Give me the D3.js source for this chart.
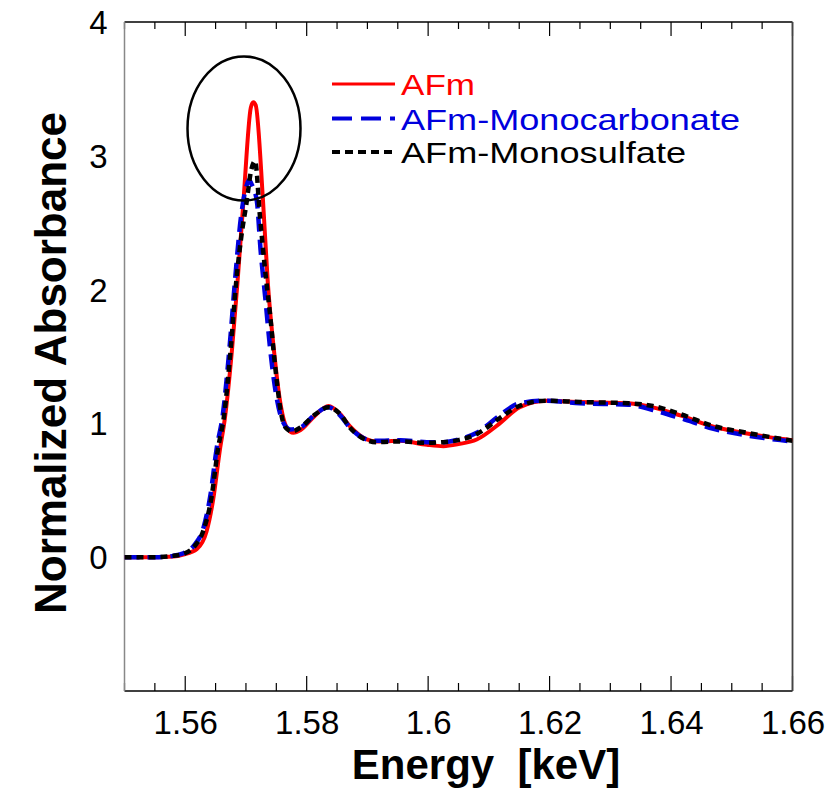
<!DOCTYPE html>
<html><head><meta charset="utf-8">
<script src="https://cdn.jsdelivr.net/npm/d3@7"></script>
<style>body{margin:0;background:#fff}svg{display:block}text{font-family:"Liberation Sans",Arial,sans-serif}</style>
</head><body>
<script>
// ---- data ----
const energyAFm = [1.55,1.555,1.558,1.5597,1.5619,1.5635,1.5646,1.5657,1.56655,1.5677,1.5686,1.5696,1.5708,1.5712,1.5716,1.5728,1.5736,1.5746,1.5756,1.5767,1.5778,1.579,1.5812,1.5836,1.5855,1.5871,1.5899,1.5915,1.5954,1.5998,1.6025,1.605,1.608,1.6118,1.615,1.6195,1.625,1.633,1.637,1.6415,1.647,1.6525,1.658,1.66];
const absAFm    = [0,0,0.005,0.02,0.06,0.19,0.43,0.80,1.045,1.55,2.05,2.67,3.36,3.40,3.38,2.67,2.05,1.55,1.17,0.97,0.93,0.95,1.05,1.13,1.07,0.98,0.88,0.865,0.87,0.84,0.83,0.845,0.88,1.0,1.12,1.17,1.16,1.15,1.12,1.06,0.975,0.925,0.885,0.875];

const energyMonoC = [1.55,1.555,1.558,1.5597,1.5615,1.563,1.5641,1.5652,1.5662,1.5673,1.5682,1.5692,1.57,1.5705,1.571,1.5718,1.5724,1.5732,1.574,1.5751,1.5761,1.5773,1.579,1.5812,1.5836,1.5855,1.5871,1.5899,1.5915,1.5954,1.5998,1.6025,1.605,1.608,1.6118,1.615,1.6195,1.625,1.633,1.637,1.6415,1.647,1.6525,1.658,1.66];
const absMonoC    = [0,0,0.01,0.03,0.09,0.22,0.45,0.82,1.07,1.57,2.07,2.55,2.76,2.82,2.78,2.66,2.30,1.93,1.55,1.18,1.01,0.955,0.97,1.06,1.12,1.06,0.97,0.88,0.87,0.875,0.86,0.86,0.88,0.93,1.06,1.15,1.17,1.15,1.14,1.10,1.04,0.96,0.91,0.875,0.865];

const energyMonoS = [1.55,1.555,1.558,1.5597,1.5615,1.563,1.5643,1.5654,1.5664,1.5675,1.5684,1.5694,1.57,1.5709,1.5715,1.5723,1.5731,1.574,1.5748,1.5759,1.5767,1.5776,1.579,1.5812,1.5836,1.5855,1.5871,1.5899,1.5915,1.5954,1.5998,1.6025,1.605,1.608,1.6118,1.615,1.6195,1.625,1.633,1.637,1.6415,1.647,1.6525,1.658,1.66];
const absMonoS    = [0,0,0.01,0.025,0.08,0.2,0.44,0.81,1.06,1.56,2.06,2.45,2.62,2.90,2.96,2.55,2.17,1.80,1.43,1.05,0.96,0.94,0.97,1.06,1.12,1.07,0.97,0.875,0.86,0.865,0.855,0.86,0.875,0.92,1.04,1.13,1.17,1.16,1.15,1.13,1.07,0.98,0.93,0.885,0.87];

const seriesNames  = ["AFm","AFm-Monocarbonate","AFm-Monosulfate"];
const seriesColors = ["#ff0000","#0000dd","#000000"];
const xTickLabels = [1.56,1.58,1.6,1.62,1.64,1.66];
const yTickLabels = [0,1,2,3,4];
const xDomain = [1.55,1.66];
const yDomain = [-1,4];

// ---- layout ----
const W = 828, H = 788;
const L = 124.5, R = 792.5, T = 22, B = 691;

const svg = d3.select("body").append("svg").attr("width", W).attr("height", H);
const x = d3.scaleLinear().domain(xDomain).range([L, R]);
const y = d3.scaleLinear().domain(yDomain).range([B, T]);

svg.append("defs").append("clipPath").attr("id","clip")
  .append("rect").attr("x", L).attr("y", T).attr("width", R - L).attr("height", B - T);

// minor/major ticks (inside, top and bottom)
const allTicks = d3.range(0, 23).map(i => +(1.55 + i * 0.005).toFixed(3));
const isMajor = v => Math.abs(Math.round(v * 100) % 2) === 0 && Math.abs(v * 100 - Math.round(v * 100)) < 1e-6;
svg.append("g").selectAll("line").data(allTicks).join("line")
  .attr("x1", d => x(d)).attr("x2", d => x(d))
  .attr("y1", B).attr("y2", d => B - (isMajor(d) ? 15 : 8))
  .attr("stroke", "#000").attr("stroke-width", 1.2);
svg.append("g").selectAll("line").data(allTicks).join("line")
  .attr("x1", d => x(d)).attr("x2", d => x(d))
  .attr("y1", T).attr("y2", d => T + (isMajor(d) ? 14 : 7))
  .attr("stroke", "#000").attr("stroke-width", 1.2);

// frame
svg.append("line").attr("x1", L).attr("x2", R).attr("y1", T).attr("y2", T).attr("stroke", "#000").attr("stroke-width", 1.5);
svg.append("line").attr("x1", L).attr("x2", R).attr("y1", B).attr("y2", B).attr("stroke", "#000").attr("stroke-width", 1.5);
svg.append("line").attr("x1", L).attr("x2", L).attr("y1", T).attr("y2", B).attr("stroke", "#888").attr("stroke-width", 1.5);
svg.append("line").attr("x1", R).attr("x2", R).attr("y1", T).attr("y2", B).attr("stroke", "#444").attr("stroke-width", 1.8);

// tick labels via axis generators
const xAxisG = svg.append("g").attr("transform", `translate(0,${B})`)
  .call(d3.axisBottom(x).tickValues(xTickLabels).tickSize(0).tickPadding(0).tickFormat(d => d3.format("")(d)));
xAxisG.select(".domain").remove();
xAxisG.selectAll("text").attr("font-size", 33).attr("fill", "#000").attr("dy", null).attr("y", 43)
  .style("font-family", '"Liberation Sans",Arial,sans-serif');

const yAxisG = svg.append("g").attr("transform", `translate(${L},0)`)
  .call(d3.axisLeft(y).tickValues(yTickLabels).tickSize(0).tickPadding(0).tickFormat(d3.format("d")));
yAxisG.select(".domain").remove();
yAxisG.selectAll("text").attr("font-size", 33).attr("fill", "#000").attr("x", -17).attr("dy", "0.35em")
  .style("font-family", '"Liberation Sans",Arial,sans-serif');

// axis titles
svg.append("text").attr("x", 486).attr("y", 779).attr("text-anchor", "middle")
  .attr("font-size", 42).attr("font-weight", "bold").style("white-space", "pre").text("Energy  [keV]");
svg.append("text").attr("transform", "translate(66,363) rotate(-90)").attr("text-anchor", "middle")
  .attr("font-size", 44).attr("font-weight", "bold").text("Normalized Absorbance");

// curves
const line = d3.line().x(d => x(d[0])).y(d => y(d[1])).curve(d3.curveMonotoneX);
const series = [
  {e: energyAFm, v: absAFm, dash: null, w: 4},
  {e: energyMonoC, v: absMonoC, dash: "15,8", w: 4.5},
  {e: energyMonoS, v: absMonoS, dash: "7,5", w: 4.5}
];
const gPlot = svg.append("g").attr("clip-path", "url(#clip)");
series.forEach((s, i) => {
  gPlot.append("path").datum(s.e.map((e, j) => [e, s.v[j]]))
    .attr("d", line).attr("fill", "none").attr("stroke", seriesColors[i])
    .attr("stroke-width", s.w).attr("stroke-dasharray", s.dash).attr("stroke-linejoin", "round");
});

// ellipse highlight
svg.append("ellipse").attr("cx", 244).attr("cy", 128.5).attr("rx", 56.5).attr("ry", 72)
  .attr("fill", "none").attr("stroke", "#000").attr("stroke-width", 2.5);

// legend
const legY = [84, 118.5, 152];
const legDash = [null, "20,9", "8,5"];
const legWidths = [74, 339, 285];
seriesNames.forEach((n, i) => {
  svg.append("line").attr("x1", 332).attr("x2", 395).attr("y1", legY[i]).attr("y2", legY[i])
    .attr("stroke", seriesColors[i]).attr("stroke-width", i === 0 ? 3 : 4).attr("stroke-dasharray", legDash[i]);
  svg.append("text").attr("x", 401).attr("y", legY[i] + 11).attr("font-size", 30)
    .attr("textLength", legWidths[i]).attr("lengthAdjust", "spacingAndGlyphs")
    .attr("fill", seriesColors[i]).text(n);
});
</script>
</body></html>
